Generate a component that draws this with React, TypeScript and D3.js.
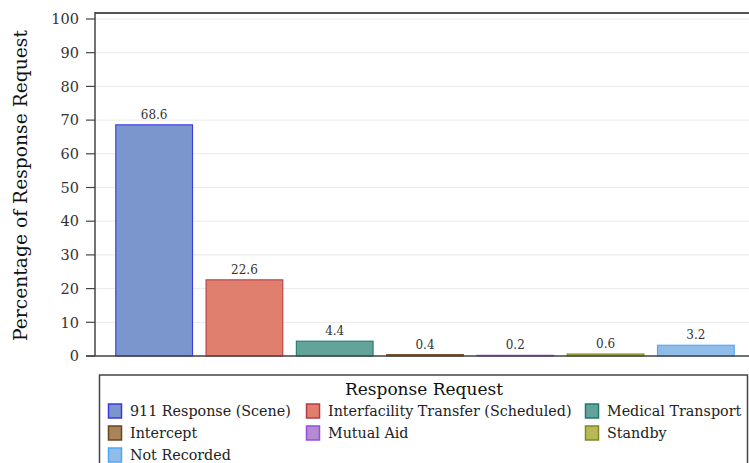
import React from "react";
import * as d3 from "d3";

const categories = [
  "911 Response (Scene)",
  "Interfacility Transfer (Scheduled)",
  "Medical Transport",
  "Intercept",
  "Mutual Aid",
  "Standby",
  "Not Recorded",
];
const values = [68.6, 22.6, 4.4, 0.4, 0.2, 0.6, 3.2];
const fills = ["#7b96cc", "#e07f6e", "#64a39a", "#a88458", "#b48ad0", "#b8b858", "#90bce8"];
const strokes = ["#3a3ae0", "#b83a48", "#1d7a6e", "#6b4420", "#9a4ae0", "#7c8a20", "#4aa8f8"];
const yTicks = [0, 10, 20, 30, 40, 50, 60, 70, 80, 90, 100];
const yTitle = "Percentage of Response Request";
const legendTitle = "Response Request";

const W = 749;
const H = 463;
const FONT = "'DejaVu Serif', serif";

export default function App() {
  const x = d3.scaleBand<string>().domain(categories).range([109, 741]).paddingInner(0.15).paddingOuter(0.075);
  const y = d3.scaleLinear().domain([0, 100]).range([356, 19]);
  const plotLeft = 95;
  const plotTop = 13;
  const plotRight = W;

  const colX = [108, 306, 585];
  const rowY = [411, 433, 455];
  const legendItems = categories.map((c, i) => ({
    c,
    i,
    col: i % 3,
    row: Math.floor(i / 3),
  }));
  return (
    <div style={{ position: "absolute", left: 0, top: 0 }}>
      <svg width={W} height={H} style={{ display: "block", background: "#fff" }}>
        {yTicks.map((t) => (
          <line key={"g" + t} x1={plotLeft} x2={plotRight} y1={y(t)} y2={y(t)} stroke="#e9e9e9" strokeWidth={1} />
        ))}
        {categories.map((c, i) => {
          const x0 = x(c)!;
          const h = y(0) - y(values[i]);
          return (
            <rect
              key={c}
              x={x0}
              y={y(values[i])}
              width={x.bandwidth()}
              height={h}
              fill={fills[i]}
              stroke={strokes[i]}
              strokeWidth={1.1}
            />
          );
        })}
        {categories.map((c, i) => (
          <text
            key={"v" + c}
            x={x(c)! + x.bandwidth() / 2}
            y={y(values[i]) - 6}
            textAnchor="middle"
            fontFamily={FONT}
            fontSize={12}
            fill="#333"
          >
            {values[i].toFixed(1)}
          </text>
        ))}
        <line x1={plotLeft} x2={plotRight} y1={plotTop} y2={plotTop} stroke="#555" strokeWidth={2} />
        <line x1={plotLeft} x2={plotLeft} y1={plotTop - 1} y2={y(0)} stroke="#444" strokeWidth={1.5} />
        <line x1={86} x2={plotRight} y1={y(0)} y2={y(0)} stroke="#444" strokeWidth={1.5} />
        {yTicks.map((t) => (
          <g key={"t" + t}>
            <line x1={86} x2={plotLeft} y1={y(t)} y2={y(t)} stroke="#444" strokeWidth={1.2} />
            <text
              x={79}
              y={y(t)}
              dy="0.36em"
              textAnchor="end"
              fontFamily={FONT}
              fontSize={14.5}
              fill="#333"
            >
              {t}
            </text>
          </g>
        ))}
        <text
          transform={`translate(27, ${(plotTop + y(0)) / 2 + 1}) rotate(-90)`}
          textAnchor="middle"
          fontFamily={FONT}
          fontSize={18.7}
          fill="#111"
        >
          {yTitle}
        </text>
        <rect x={99.5} y={375} width={648} height={100} fill="none" stroke="#444" strokeWidth={1.5} />
        <text x={424} y={395} textAnchor="middle" fontFamily={FONT} fontSize={17} fill="#111">
          {legendTitle}
        </text>
        {legendItems.map(({ c, i, col, row }) => (
          <g key={"l" + c}>
            <rect
              x={colX[col] + 0.5}
              y={rowY[row] - 7}
              width={13}
              height={14}
              fill={fills[i]}
              stroke={strokes[i]}
              strokeWidth={1.5}
            />
            <text
              x={colX[col] + 22}
              y={rowY[row]}
              dy="0.35em"
              fontFamily={FONT}
              fontSize={14.3}
              fill="#222"
            >
              {c}
            </text>
          </g>
        ))}
      </svg>
    </div>
  );
}
